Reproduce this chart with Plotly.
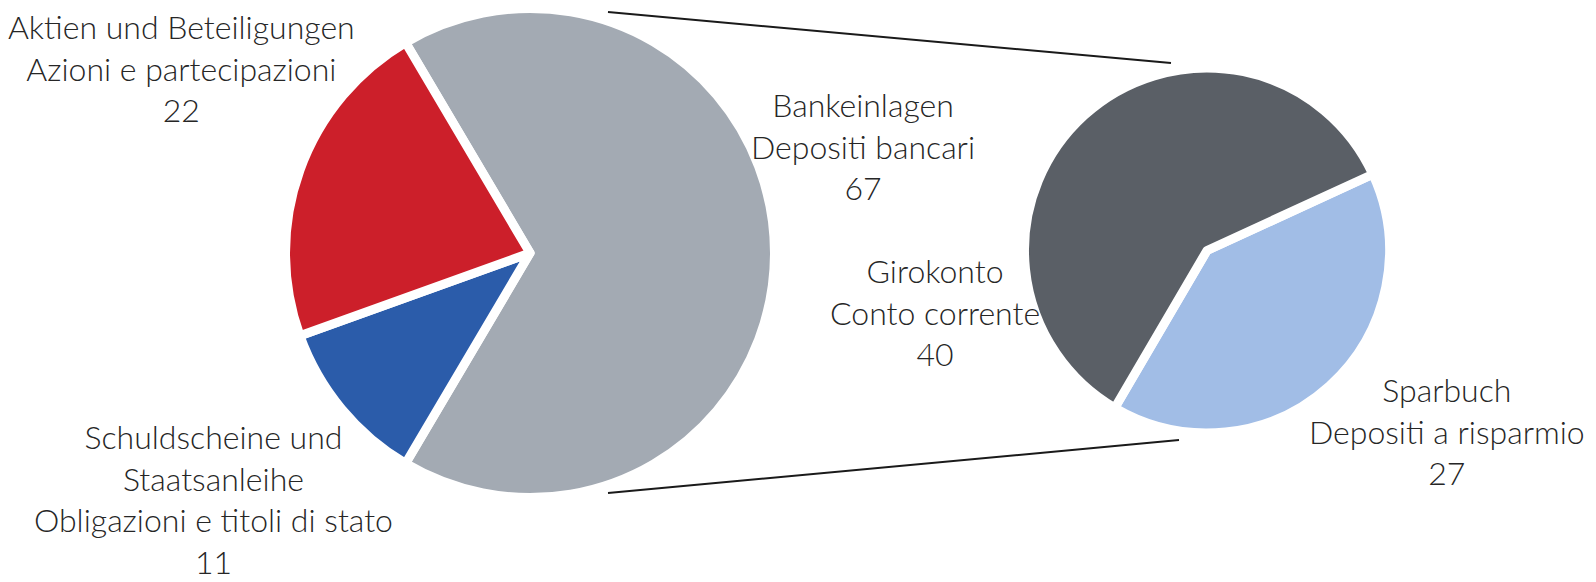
import plotly.graph_objects as go

# --- data -------------------------------------------------------------
main_labels = ["Bankeinlagen<br>Depositi bancari",
               "Schuldscheine und<br>Staatsanleihe<br>Obligazioni e titoli di stato",
               "Aktien und Beteiligungen<br>Azioni e partecipazioni"]
main_values = [67, 11, 22]
main_colors = ["#a3aab3", "#2b5caa", "#cc1f2a"]

bank_labels = ["Sparbuch<br>Depositi a risparmio", "Girokonto<br>Conto corrente"]
bank_values = [27, 40]
bank_colors = ["#a1bde6", "#5a5f66"]

# --- canvas / geometry (pixels) --------------------------------------
W, H = 1596, 582
GAP = 9                      # white separator between slices

L_CX, L_CY, L_R = 530, 253, 240 + GAP / 2
R_CX, R_CY, R_R = 1207, 250.5, 178 + GAP / 2


def dom(cx, cy, r):
    return dict(x=[(cx - r) / W, (cx + r) / W],
                y=[1 - (cy + r) / H, 1 - (cy - r) / H])


def px(x, y):
    return x / W, 1 - y / H


fig = go.Figure()

# main breakdown: the bank-deposit slice faces the detail pie on the right
main_rot = 90 - 360 * main_values[0] / sum(main_values) / 2
fig.add_trace(go.Pie(
    labels=main_labels, values=main_values, sort=False,
    direction="clockwise", rotation=main_rot,
    marker=dict(colors=main_colors, line=dict(color="white", width=GAP)),
    textinfo="none", hoverinfo="label+value", showlegend=False,
    domain=dom(L_CX, L_CY, L_R),
))

# detail of bank deposits
fig.add_trace(go.Pie(
    labels=bank_labels, values=bank_values, sort=False,
    direction="clockwise", rotation=65.3,
    marker=dict(colors=bank_colors, line=dict(color="white", width=GAP)),
    textinfo="none", hoverinfo="label+value", showlegend=False,
    domain=dom(R_CX, R_CY, R_R),
))

# connector lines between the two pies
for (xa, ya), (xb, yb) in [((608, 12), (1171, 63)), ((608, 493), (1179, 440))]:
    x0, y0 = px(xa, ya)
    x1, y1 = px(xb, yb)
    fig.add_shape(type="line", xref="paper", yref="paper",
                  x0=x0, y0=y0, x1=x1, y1=y1,
                  line=dict(color="#1a1a1a", width=2))

# slice labels
label_pos = {
    main_labels[0]: (863, 146),
    main_labels[1]: (213, 499),
    main_labels[2]: (181, 68),
    bank_labels[0]: (1447, 431),
    bank_labels[1]: (935, 312),
}
for labs, vals in [(main_labels, main_values), (bank_labels, bank_values)]:
    for lab, val in zip(labs, vals):
        x, y = px(*label_pos[lab])
        fig.add_annotation(x=x, y=y, xref="paper", yref="paper",
                           text=f"{lab}<br>{val}", showarrow=False,
                           xanchor="center", yanchor="middle", align="center",
                           font=dict(family="Lato", size=32, weight=300,
                                     color="#262626"))

fig.update_layout(width=W, height=H, margin=dict(l=0, r=0, t=0, b=0),
                  paper_bgcolor="white", plot_bgcolor="white")

fig.write_html("out.html")
